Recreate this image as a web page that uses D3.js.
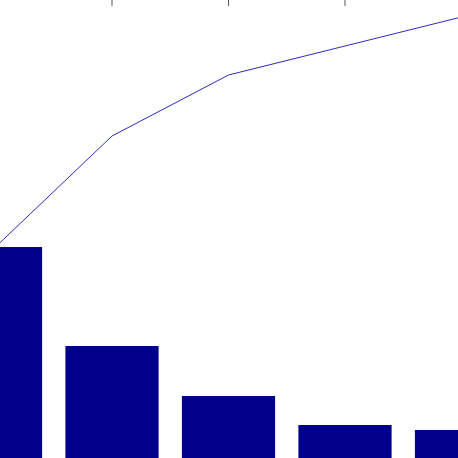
<!DOCTYPE html>
<html>
<head>
<meta charset="utf-8">
<script src="https://cdn.jsdelivr.net/npm/d3@7"></script>
<style>
  html, body { margin: 0; padding: 0; background: #fff; overflow: hidden; }
  svg { display: block; }
</style>
</head>
<body>
<svg id="chart" width="458" height="458"></svg>
<script>
// values (the view is cropped tightly on the plot)
const categories = ["A", "B", "C", "D", "E"];
const barValues = [211, 112, 62, 33, 28];
const cumulative = [211, 322, 383, 412, 441];

const width = 458, height = 458;
const svg = d3.select("#chart");

const x = d3.scaleBand()
  .domain(categories)
  .range([-62.75, 519.75])
  .paddingInner(0.2)
  .paddingOuter(0.1);

const y = d3.scaleLinear().domain([0, 458]).range([height, 0]);

svg.selectAll(".bar")
  .data(categories)
  .enter()
  .append("rect")
  .attr("class", "bar")
  .attr("x", d => x(d))
  .attr("y", (d, i) => y(barValues[i]))
  .attr("width", x.bandwidth())
  .attr("height", (d, i) => y(0) - y(barValues[i]))
  .attr("fill", "#00008b");

const line = d3.line()
  .x((d, i) => x(categories[i]) + x.bandwidth() / 2)
  .y(d => y(d));

svg.append("path")
  .datum(cumulative)
  .attr("d", line)
  .attr("fill", "none")
  .attr("stroke", "#2b2bc0")
  .attr("stroke-width", 1);

// top axis, ticks pointing into the plot
const topAxis = svg.append("g")
  .attr("transform", "translate(0,-1)")
  .call(d3.axisTop(x).tickSizeInner(-7).tickSizeOuter(0).tickFormat(""));
topAxis.select(".domain").remove();
topAxis.selectAll(".tick line").attr("stroke", "#555");
</script>
</body>
</html>
